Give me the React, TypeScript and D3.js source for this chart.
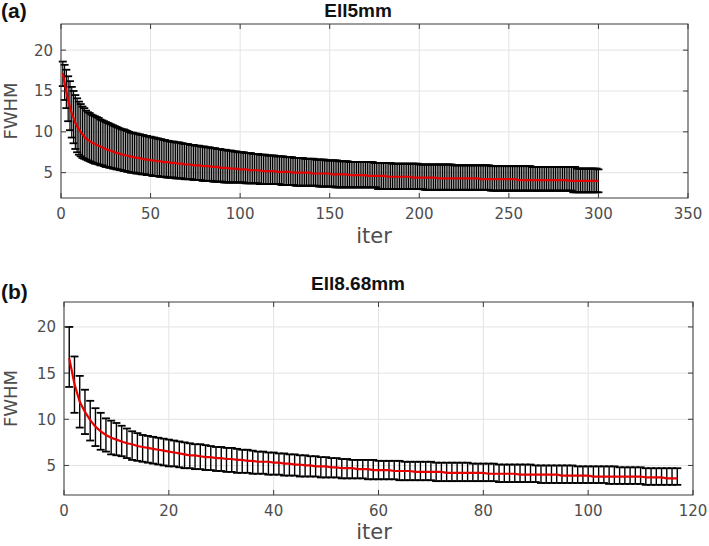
import React from "react";
import * as d3 from "d3";

// panel (a) Ell5mm, one value per iteration 1..300
const meanA = [
  17.2, 16.0, 14.9, 13.9, 13.0, 12.3, 11.7, 11.1, 10.7, 10.3,
  10.0, 9.7, 9.4, 9.2, 9.0, 8.9, 8.7, 8.6, 8.5, 8.4,
  8.3, 8.2, 8.1, 8.0, 7.9, 7.8, 7.7, 7.7, 7.6, 7.5,
  7.4, 7.4, 7.3, 7.2, 7.2, 7.1, 7.1, 7.0, 7.0, 6.9,
  6.9, 6.8, 6.8, 6.8, 6.7, 6.7, 6.6, 6.6, 6.6, 6.5,
  6.5, 6.5, 6.4, 6.4, 6.4, 6.4, 6.3, 6.3, 6.3, 6.3,
  6.2, 6.2, 6.2, 6.2, 6.1, 6.1, 6.1, 6.1, 6.0, 6.0,
  6.0, 6.0, 6.0, 5.9, 5.9, 5.9, 5.9, 5.9, 5.8, 5.8,
  5.8, 5.8, 5.8, 5.7, 5.7, 5.7, 5.7, 5.7, 5.6, 5.6,
  5.6, 5.6, 5.6, 5.5, 5.5, 5.5, 5.5, 5.5, 5.4, 5.4,
  5.4, 5.4, 5.4, 5.4, 5.3, 5.3, 5.3, 5.3, 5.3, 5.3,
  5.3, 5.2, 5.2, 5.2, 5.2, 5.2, 5.2, 5.2, 5.2, 5.1,
  5.1, 5.1, 5.1, 5.1, 5.1, 5.1, 5.1, 5.1, 5.0, 5.0,
  5.0, 5.0, 5.0, 5.0, 5.0, 5.0, 5.0, 5.0, 5.0, 4.9,
  4.9, 4.9, 4.9, 4.9, 4.9, 4.9, 4.9, 4.9, 4.9, 4.9,
  4.8, 4.8, 4.8, 4.8, 4.8, 4.8, 4.8, 4.8, 4.8, 4.8,
  4.7, 4.7, 4.7, 4.7, 4.7, 4.7, 4.7, 4.7, 4.7, 4.7,
  4.6, 4.6, 4.6, 4.6, 4.6, 4.6, 4.6, 4.6, 4.6, 4.6,
  4.6, 4.5, 4.5, 4.5, 4.5, 4.5, 4.5, 4.5, 4.5, 4.5,
  4.5, 4.5, 4.5, 4.5, 4.5, 4.4, 4.4, 4.4, 4.4, 4.4,
  4.4, 4.4, 4.4, 4.4, 4.4, 4.4, 4.4, 4.4, 4.4, 4.3,
  4.3, 4.3, 4.3, 4.3, 4.3, 4.3, 4.3, 4.3, 4.3, 4.3,
  4.3, 4.3, 4.3, 4.3, 4.3, 4.3, 4.3, 4.3, 4.3, 4.3,
  4.3, 4.3, 4.3, 4.2, 4.2, 4.2, 4.2, 4.2, 4.2, 4.2,
  4.2, 4.2, 4.2, 4.2, 4.2, 4.2, 4.2, 4.2, 4.2, 4.2,
  4.2, 4.2, 4.2, 4.2, 4.1, 4.1, 4.1, 4.1, 4.1, 4.1,
  4.1, 4.1, 4.1, 4.1, 4.1, 4.1, 4.1, 4.1, 4.1, 4.1,
  4.1, 4.1, 4.1, 4.1, 4.1, 4.1, 4.1, 4.1, 4.1, 4.1,
  4.1, 4.1, 4.1, 4.0, 4.0, 4.0, 4.0, 4.0, 4.0, 4.0,
  4.0, 4.0, 4.0, 4.0, 4.0, 4.0, 4.0, 4.0, 4.0, 4.0,
];
const upperA = [
  18.6, 18.2, 17.6, 16.8, 16.2, 15.5, 15.0, 14.5, 14.1, 13.7,
  13.4, 13.1, 12.9, 12.6, 12.4, 12.3, 12.1, 12.0, 11.9, 11.8,
  11.7, 11.5, 11.4, 11.3, 11.2, 11.1, 11.0, 10.9, 10.8, 10.7,
  10.6, 10.5, 10.4, 10.3, 10.3, 10.2, 10.1, 10.0, 9.9, 9.9,
  9.8, 9.8, 9.7, 9.7, 9.6, 9.6, 9.5, 9.5, 9.4, 9.4,
  9.3, 9.3, 9.2, 9.2, 9.1, 9.1, 9.0, 9.0, 8.9, 8.9,
  8.8, 8.8, 8.8, 8.7, 8.7, 8.7, 8.6, 8.6, 8.5, 8.5,
  8.5, 8.4, 8.4, 8.4, 8.3, 8.3, 8.3, 8.2, 8.2, 8.2,
  8.1, 8.1, 8.1, 8.0, 8.0, 8.0, 7.9, 7.9, 7.9, 7.8,
  7.8, 7.8, 7.7, 7.7, 7.7, 7.6, 7.6, 7.6, 7.5, 7.5,
  7.5, 7.5, 7.4, 7.4, 7.4, 7.4, 7.3, 7.3, 7.3, 7.3,
  7.2, 7.2, 7.2, 7.2, 7.1, 7.1, 7.1, 7.1, 7.1, 7.0,
  7.0, 7.0, 7.0, 7.0, 6.9, 6.9, 6.9, 6.9, 6.9, 6.8,
  6.8, 6.8, 6.8, 6.8, 6.8, 6.7, 6.7, 6.7, 6.7, 6.7,
  6.7, 6.6, 6.6, 6.6, 6.6, 6.6, 6.6, 6.5, 6.5, 6.5,
  6.5, 6.5, 6.5, 6.5, 6.4, 6.4, 6.4, 6.4, 6.4, 6.4,
  6.3, 6.3, 6.3, 6.3, 6.3, 6.3, 6.3, 6.3, 6.3, 6.3,
  6.3, 6.3, 6.3, 6.3, 6.2, 6.2, 6.2, 6.2, 6.2, 6.2,
  6.2, 6.2, 6.2, 6.2, 6.1, 6.1, 6.1, 6.1, 6.1, 6.1,
  6.1, 6.1, 6.1, 6.1, 6.1, 6.1, 6.1, 6.1, 6.1, 6.0,
  6.0, 6.0, 6.0, 6.0, 6.0, 6.0, 6.0, 6.0, 6.0, 6.0,
  6.0, 6.0, 6.0, 6.0, 6.0, 6.0, 6.0, 6.0, 5.9, 5.9,
  5.9, 5.9, 5.9, 5.9, 5.9, 5.9, 5.9, 5.9, 5.9, 5.9,
  5.9, 5.9, 5.9, 5.9, 5.9, 5.9, 5.9, 5.9, 5.9, 5.8,
  5.8, 5.8, 5.8, 5.8, 5.8, 5.8, 5.8, 5.8, 5.8, 5.8,
  5.8, 5.8, 5.8, 5.8, 5.8, 5.8, 5.8, 5.8, 5.8, 5.8,
  5.8, 5.8, 5.7, 5.7, 5.7, 5.7, 5.7, 5.7, 5.7, 5.7,
  5.7, 5.7, 5.7, 5.7, 5.7, 5.7, 5.7, 5.7, 5.7, 5.7,
  5.7, 5.7, 5.7, 5.7, 5.7, 5.7, 5.7, 5.5, 5.5, 5.5,
  5.5, 5.5, 5.5, 5.5, 5.5, 5.5, 5.5, 5.5, 5.5, 5.4,
];
const lowerA = [
  15.6, 13.9, 12.9, 11.3, 10.2, 9.3, 8.6, 7.9, 7.5, 7.2,
  7.0, 6.8, 6.7, 6.6, 6.5, 6.4, 6.3, 6.2, 6.1, 6.1,
  6.0, 5.9, 5.9, 5.8, 5.7, 5.7, 5.6, 5.6, 5.5, 5.5,
  5.4, 5.4, 5.3, 5.3, 5.2, 5.2, 5.1, 5.1, 5.0, 5.0,
  5.0, 4.9, 4.9, 4.9, 4.8, 4.8, 4.8, 4.7, 4.7, 4.7,
  4.6, 4.6, 4.6, 4.6, 4.5, 4.5, 4.5, 4.5, 4.4, 4.4,
  4.4, 4.4, 4.4, 4.3, 4.3, 4.3, 4.3, 4.3, 4.2, 4.2,
  4.2, 4.2, 4.2, 4.1, 4.1, 4.1, 4.1, 4.1, 4.0, 4.0,
  4.0, 4.0, 4.0, 4.0, 3.9, 3.9, 3.9, 3.9, 3.9, 3.9,
  3.8, 3.8, 3.8, 3.8, 3.8, 3.8, 3.8, 3.8, 3.8, 3.8,
  3.8, 3.8, 3.7, 3.7, 3.7, 3.7, 3.7, 3.7, 3.7, 3.7,
  3.6, 3.6, 3.6, 3.6, 3.6, 3.6, 3.6, 3.6, 3.6, 3.6,
  3.6, 3.6, 3.5, 3.5, 3.5, 3.5, 3.5, 3.5, 3.5, 3.5,
  3.4, 3.4, 3.4, 3.4, 3.4, 3.4, 3.4, 3.4, 3.4, 3.4,
  3.4, 3.4, 3.4, 3.3, 3.3, 3.3, 3.3, 3.3, 3.3, 3.3,
  3.3, 3.3, 3.2, 3.2, 3.2, 3.2, 3.2, 3.2, 3.2, 3.2,
  3.2, 3.2, 3.2, 3.2, 3.2, 3.2, 3.2, 3.2, 3.2, 3.2,
  3.2, 3.2, 3.2, 3.2, 3.2, 3.2, 3.0, 3.0, 3.0, 3.0,
  3.0, 3.0, 3.0, 3.0, 3.0, 3.0, 3.0, 3.0, 3.0, 3.0,
  3.0, 3.0, 3.0, 3.0, 3.0, 3.0, 3.0, 3.0, 3.0, 3.0,
  3.0, 3.0, 2.9, 2.9, 2.9, 2.9, 2.9, 2.9, 2.9, 2.9,
  2.9, 2.9, 2.9, 2.9, 2.9, 2.9, 2.9, 2.9, 2.9, 2.9,
  2.9, 2.9, 2.9, 2.9, 2.9, 2.9, 2.9, 2.9, 2.9, 2.9,
  2.9, 2.9, 2.9, 2.9, 2.9, 2.9, 2.9, 2.9, 2.9, 2.8,
  2.8, 2.8, 2.8, 2.8, 2.8, 2.8, 2.8, 2.8, 2.8, 2.8,
  2.8, 2.8, 2.8, 2.8, 2.8, 2.8, 2.8, 2.8, 2.8, 2.8,
  2.8, 2.8, 2.8, 2.8, 2.8, 2.8, 2.8, 2.8, 2.8, 2.8,
  2.8, 2.8, 2.8, 2.8, 2.8, 2.8, 2.8, 2.8, 2.8, 2.8,
  2.8, 2.8, 2.8, 2.8, 2.8, 2.6, 2.6, 2.6, 2.6, 2.6,
  2.6, 2.6, 2.6, 2.6, 2.6, 2.6, 2.6, 2.6, 2.6, 2.6,
];

// panel (b) Ell8.68mm, iterations 1..117
const meanB = [
  16.6, 13.8, 11.9, 10.8, 9.9, 9.2, 8.7, 8.3, 8.0, 7.8,
  7.6, 7.4, 7.3, 7.1, 7.0, 6.9, 6.8, 6.7, 6.6, 6.5,
  6.4, 6.3, 6.2, 6.1, 6.1, 6.0, 5.9, 5.9, 5.8, 5.8,
  5.7, 5.7, 5.6, 5.6, 5.5, 5.5, 5.4, 5.4, 5.4, 5.3,
  5.3, 5.2, 5.2, 5.1, 5.1, 5.0, 5.0, 4.9, 4.9, 4.9,
  4.8, 4.8, 4.7, 4.7, 4.7, 4.6, 4.6, 4.6, 4.5, 4.5,
  4.5, 4.5, 4.4, 4.4, 4.4, 4.4, 4.3, 4.3, 4.3, 4.3,
  4.3, 4.3, 4.2, 4.2, 4.2, 4.2, 4.2, 4.2, 4.2, 4.2,
  4.1, 4.1, 4.1, 4.1, 4.1, 4.1, 4.0, 4.0, 4.0, 4.0,
  4.0, 4.0, 4.0, 4.0, 3.9, 3.9, 3.9, 3.9, 3.9, 3.9,
  3.8, 3.8, 3.8, 3.8, 3.8, 3.8, 3.8, 3.8, 3.8, 3.8,
  3.7, 3.7, 3.7, 3.7, 3.6, 3.6, 3.6,
];
const upperB = [
  20.0, 16.8, 14.7, 13.2, 12.0, 11.2, 10.7, 10.1, 9.85, 9.6,
  9.3, 9.0, 8.7, 8.5, 8.3, 8.2, 8.1, 8.0, 7.9, 7.8,
  7.7, 7.6, 7.5, 7.4, 7.3, 7.3, 7.2, 7.1, 7.0, 7.0,
  6.9, 6.9, 6.8, 6.7, 6.7, 6.6, 6.5, 6.5, 6.4, 6.4,
  6.3, 6.3, 6.2, 6.2, 6.1, 6.1, 6.0, 6.0, 5.9, 5.9,
  5.8, 5.8, 5.7, 5.7, 5.6, 5.6, 5.6, 5.6, 5.6, 5.5,
  5.5, 5.5, 5.5, 5.5, 5.4, 5.4, 5.4, 5.4, 5.4, 5.4,
  5.3, 5.3, 5.3, 5.3, 5.3, 5.3, 5.3, 5.2, 5.2, 5.2,
  5.2, 5.2, 5.1, 5.1, 5.1, 5.1, 5.1, 5.1, 5.1, 5.0,
  5.0, 5.0, 5.0, 5.0, 5.0, 5.0, 5.0, 4.9, 4.9, 4.9,
  4.9, 4.9, 4.9, 4.9, 4.9, 4.8, 4.8, 4.8, 4.8, 4.8,
  4.7, 4.7, 4.7, 4.7, 4.7, 4.7, 4.7,
];
const lowerB = [
  13.5, 10.7, 9.1, 8.4, 7.7, 7.1, 6.7, 6.5, 6.2, 6.1,
  6.0, 5.8, 5.6, 5.5, 5.4, 5.3, 5.2, 5.1, 5.0, 4.9,
  4.9, 4.8, 4.7, 4.7, 4.6, 4.6, 4.5, 4.5, 4.4, 4.4,
  4.3, 4.3, 4.2, 4.2, 4.2, 4.1, 4.1, 4.1, 4.0, 4.0,
  4.0, 3.9, 3.9, 3.9, 3.8, 3.8, 3.8, 3.8, 3.7, 3.7,
  3.7, 3.7, 3.6, 3.6, 3.6, 3.6, 3.6, 3.5, 3.5, 3.5,
  3.5, 3.5, 3.5, 3.4, 3.4, 3.4, 3.4, 3.4, 3.4, 3.4,
  3.3, 3.3, 3.3, 3.3, 3.3, 3.3, 3.3, 3.3, 3.3, 3.3,
  3.3, 3.3, 3.2, 3.2, 3.2, 3.2, 3.2, 3.2, 3.2, 3.2,
  3.1, 3.1, 3.1, 3.1, 3.1, 3.1, 3.1, 3.1, 3.1, 3.1,
  3.1, 3.1, 3.1, 3.0, 3.0, 3.0, 3.0, 3.0, 3.0, 3.0,
  2.9, 2.9, 2.9, 2.9, 2.9, 2.9, 2.9,
];

const xTicksA = [0, 50, 100, 150, 200, 250, 300, 350];
const xTicksB = [0, 20, 40, 60, 80, 100, 120];
const yTicks = [5, 10, 15, 20];

const axisColor = "#3a3a3a";
const gridColor = "#e3e3e3";
const labelColor = "#4d4d4d";
const font = "'DejaVu Sans', sans-serif";
const boldFont = "'Liberation Sans', Arial, sans-serif";

function Panel({ box, xMax, yDomain, xTicks, mean, upper, lower, title, tag, titleY, tagY, xLabelY, barWidth }) {
  const { left, right, top, bottom } = box;
  const x = d3.scaleLinear().domain([0, xMax]).range([left, right]);
  const y = d3.scaleLinear().domain(yDomain).range([bottom, top]);
  const line = d3.line<number>().x((_, i) => x(i + 1)).y(d => y(d));
  const cap = 4;
  const tick = 5;

  return (
    <g>
      {/* grid */}
      {xTicks.map(t => (
        <line key={"gx" + t} x1={x(t)} x2={x(t)} y1={top} y2={bottom} stroke={gridColor} />
      ))}
      {yTicks.map(t => (
        <line key={"gy" + t} x1={left} x2={right} y1={y(t)} y2={y(t)} stroke={gridColor} />
      ))}

      {/* error bars */}
      <g stroke="#000" strokeWidth={barWidth}>
        {mean.map((_, i) => {
          const cx = x(i + 1);
          return (
            <g key={i}>
              <line x1={cx} x2={cx} y1={y(upper[i])} y2={y(lower[i])} />
              <line x1={cx - cap} x2={cx + cap} y1={y(upper[i])} y2={y(upper[i])} strokeWidth={1.8} />
              <line x1={cx - cap} x2={cx + cap} y1={y(lower[i])} y2={y(lower[i])} strokeWidth={1.8} />
            </g>
          );
        })}
      </g>
      <path d={line(mean) || ""} fill="none" stroke="#e60000" strokeWidth={2.2} />

      {/* box + ticks */}
      <rect x={left} y={top} width={right - left} height={bottom - top} fill="none" stroke={axisColor} strokeWidth={1} />
      {xTicks.map(t => (
        <g key={"tx" + t} stroke={axisColor}>
          <line x1={x(t)} x2={x(t)} y1={bottom} y2={bottom - tick} />
          <line x1={x(t)} x2={x(t)} y1={top} y2={top + tick} />
        </g>
      ))}
      {yTicks.map(t => (
        <g key={"ty" + t} stroke={axisColor}>
          <line x1={left} x2={left + tick} y1={y(t)} y2={y(t)} />
          <line x1={right} x2={right - tick} y1={y(t)} y2={y(t)} />
        </g>
      ))}

      {/* tick labels */}
      {xTicks.map(t => (
        <text key={"lx" + t} x={x(t)} y={bottom + 21} textAnchor="middle" fontSize={15} fill={labelColor} fontFamily={font}>
          {t}
        </text>
      ))}
      {yTicks.map(t => (
        <text key={"ly" + t} x={left - 8} y={y(t)} dy="0.36em" textAnchor="end" fontSize={15} fill={labelColor} fontFamily={font}>
          {t}
        </text>
      ))}

      <text x={374} y={xLabelY} textAnchor="middle" fontSize={21} fill={labelColor} fontFamily={font}>iter</text>
      <text transform={`translate(17,${(top + bottom) / 2}) rotate(-90)`} textAnchor="middle" fontSize={18} fill={labelColor} fontFamily={font}>FWHM</text>
      <text x={358} y={titleY} textAnchor="middle" fontSize={19} fontWeight="bold" fill="#111" fontFamily={boldFont}>{title}</text>
      <text x={1} y={tagY} fontSize={21} fontWeight="bold" fill="#111" fontFamily={boldFont}>{tag}</text>
    </g>
  );
}

export default function App() {
  return (
    <svg width={709} height={546} style={{ position: "absolute", left: 0, top: 0, background: "#fff" }}>
      <Panel
        box={{ left: 61, right: 688, top: 24, bottom: 198 }}
        xMax={350}
        yDomain={[1.9, 23.2]}
        xTicks={xTicksA}
        mean={meanA}
        upper={upperA}
        lower={lowerA}
        title="Ell5mm"
        tag="(a)"
        titleY={17}
        tagY={18}
        xLabelY={243}
        barWidth={1.2}
      />
      <Panel
        box={{ left: 64, right: 693, top: 302, bottom: 495 }}
        xMax={120}
        yDomain={[1.8, 22.7]}
        xTicks={xTicksB}
        mean={meanB}
        upper={upperB}
        lower={lowerB}
        title="Ell8.68mm"
        tag="(b)"
        titleY={290}
        tagY={299}
        xLabelY={539}
        barWidth={1.4}
      />
    </svg>
  );
}
